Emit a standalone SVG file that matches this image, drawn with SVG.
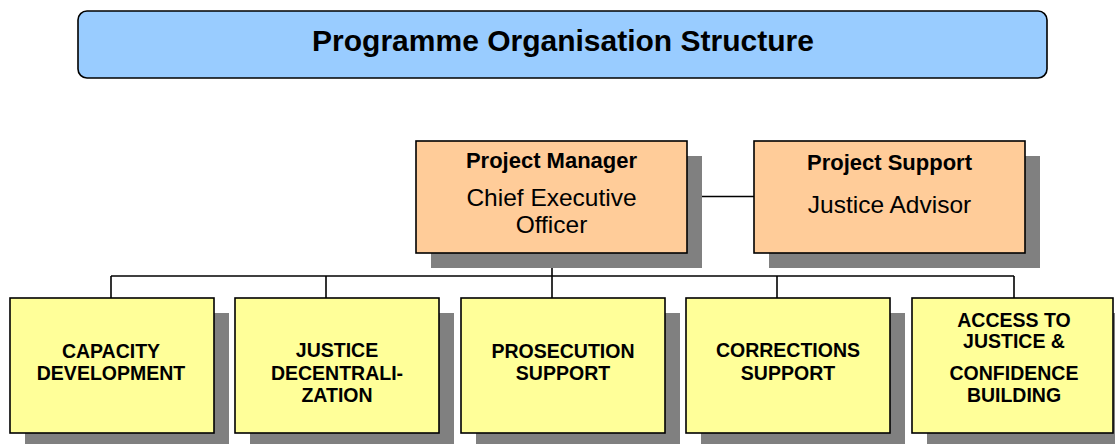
<svg xmlns="http://www.w3.org/2000/svg" width="1115" height="444" viewBox="0 0 1115 444">
  <style>
    .shadow { fill: #808080; }
    .box { stroke: #000; stroke-width: 1.6; }
    .title { fill: #99CCFF; }
    .lead { fill: #FFCC99; }
    .unit { fill: #FFFF99; }
    .wire { fill: none; stroke: #000; stroke-width: 1.6; }
    text { font-family: "Liberation Sans", Arial, sans-serif; fill: #000; text-anchor: middle; }
    .h { font-weight: bold; font-size: 22px; }
    .r { font-size: 24.5px; }
    .u { font-weight: bold; font-size: 19.5px; }
  </style>

  <!-- heading banner -->
  <g id="title">
    <rect class="box title" x="78" y="11" width="969" height="67" rx="9" ry="9"/>
    <text x="563" y="51" style="font-weight:bold;font-size:30px">Programme Organisation Structure</text>
  </g>

  <!-- connectors -->
  <g id="connectors">
    <line class="wire" x1="687" y1="196.5" x2="754" y2="196.5"/>
    <line class="wire" x1="552" y1="253" x2="552" y2="276"/>
    <line class="wire" x1="111" y1="276" x2="1014" y2="276"/>
    <line class="wire" x1="111" y1="276" x2="111" y2="298"/>
    <line class="wire" x1="326" y1="276" x2="326" y2="298"/>
    <line class="wire" x1="552" y1="276" x2="552" y2="298"/>
    <line class="wire" x1="777" y1="276" x2="777" y2="298"/>
    <line class="wire" x1="1014" y1="276" x2="1014" y2="298"/>
  </g>

  <!-- management -->
  <g id="project-manager">
    <rect class="shadow" x="431" y="156" width="271" height="112"/>
    <rect class="box lead" x="416" y="141" width="271" height="112"/>
    <text class="h" x="551.5" y="168">Project Manager</text>
    <text class="r" x="551.5" y="206">Chief Executive</text>
    <text class="r" x="551.5" y="233">Officer</text>
  </g>

  <g id="project-support">
    <rect class="shadow" x="769" y="156" width="271" height="112"/>
    <rect class="box lead" x="754" y="141" width="271" height="112"/>
    <text class="h" x="889.5" y="170">Project Support</text>
    <text class="r" x="889.5" y="213">Justice Advisor</text>
  </g>

  <!-- components -->
  <g id="capacity-development">
    <rect class="shadow" x="25" y="313" width="204" height="135"/>
    <rect class="box unit" x="10" y="298" width="204" height="135"/>
    <text class="u" x="111" y="358">CAPACITY</text>
    <text class="u" x="111" y="380">DEVELOPMENT</text>
  </g>

  <g id="justice-decentralization">
    <rect class="shadow" x="250" y="313" width="204" height="135"/>
    <rect class="box unit" x="235" y="298" width="204" height="135"/>
    <text class="u" x="337" y="357">JUSTICE</text>
    <text class="u" x="337" y="380">DECENTRALI-</text>
    <text class="u" x="337" y="402">ZATION</text>
  </g>

  <g id="prosecution-support">
    <rect class="shadow" x="476" y="313" width="204" height="135"/>
    <rect class="box unit" x="461" y="298" width="204" height="135"/>
    <text class="u" x="563" y="358">PROSECUTION</text>
    <text class="u" x="563" y="380">SUPPORT</text>
  </g>

  <g id="corrections-support">
    <rect class="shadow" x="701" y="313" width="204" height="135"/>
    <rect class="box unit" x="686" y="298" width="204" height="135"/>
    <text class="u" x="788" y="357">CORRECTIONS</text>
    <text class="u" x="788" y="380">SUPPORT</text>
  </g>

  <g id="access-to-justice">
    <rect class="shadow" x="927" y="313" width="201" height="135"/>
    <rect class="box unit" x="912" y="298" width="201" height="135"/>
    <text class="u" x="1014" y="327">ACCESS TO</text>
    <text class="u" x="1014" y="348">JUSTICE &amp;</text>
    <text class="u" x="1014" y="380">CONFIDENCE</text>
    <text class="u" x="1014" y="402">BUILDING</text>
  </g>
</svg>
